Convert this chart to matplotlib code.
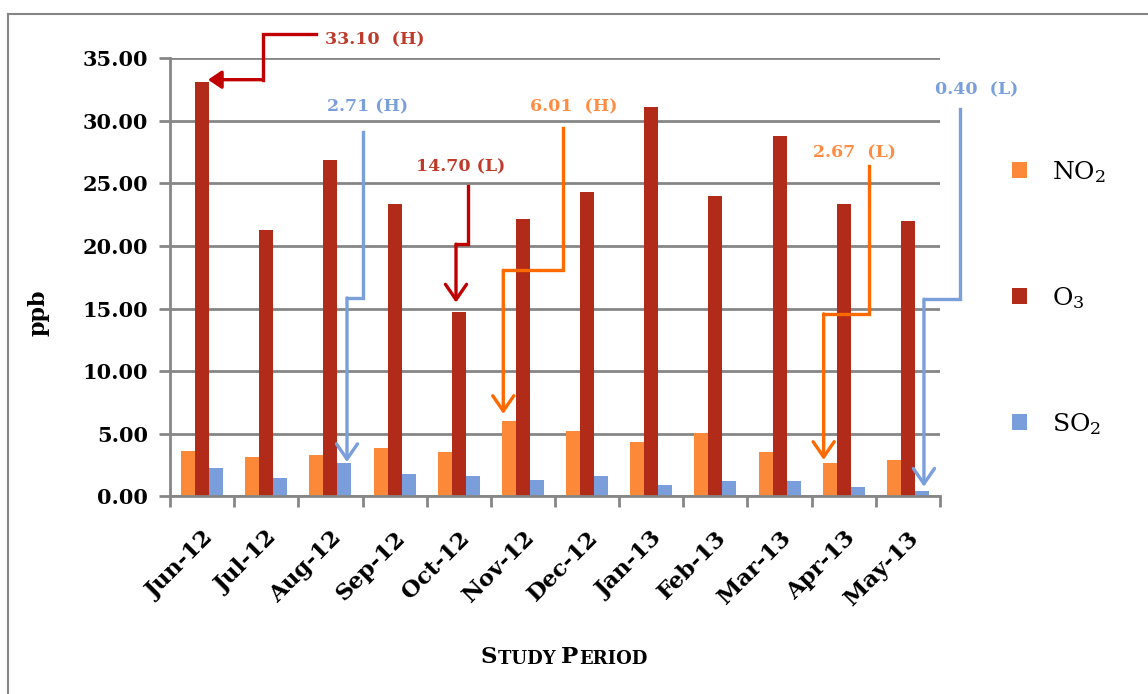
import matplotlib
matplotlib.use('Agg')
import matplotlib.pyplot as plt
import numpy as np
from matplotlib.lines import Line2D

plt.rcParams['font.family'] = 'DejaVu Serif'
plt.rcParams['mathtext.fontset'] = 'dejavuserif'

# monthly means (ppb)
months = ['Jun-12', 'Jul-12', 'Aug-12', 'Sep-12', 'Oct-12', 'Nov-12',
          'Dec-12', 'Jan-13', 'Feb-13', 'Mar-13', 'Apr-13', 'May-13']
no2 = [3.67, 3.13, 3.32, 3.85, 3.56, 6.01, 5.26, 4.33, 5.10, 3.59, 2.67, 2.93]
o3 = [33.10, 21.29, 26.82, 23.34, 14.70, 22.14, 24.27, 31.10, 24.00, 28.74, 23.36, 22.00]
so2 = [2.29, 1.44, 2.71, 1.78, 1.65, 1.30, 1.62, 0.90, 1.20, 1.25, 0.72, 0.40]
yticks = [0, 5, 10, 15, 20, 25, 30, 35]

c_no2 = '#FC8939'
c_o3 = '#B22B18'
c_so2 = '#7A9DDB'
grey = '#868686'

fig = plt.figure(figsize=(11.48, 6.94), dpi=100)
ax = fig.add_axes([0.1481, 0.2846, 0.6707, 0.6318])

x = np.arange(len(months))
w = 0.218
ax.bar(x - w, no2, w, color=c_no2, label='NO$_2$', zorder=2)
ax.bar(x, o3, w, color=c_o3, label='O$_3$', zorder=2)
ax.bar(x + w, so2, w, color=c_so2, label='SO$_2$', zorder=2)

ax.set_xlim(-0.5, len(months) - 0.5)
ax.set_ylim(0, 35)
ax.set_yticks(yticks)
ax.set_yticklabels(['%.2f' % v for v in yticks], fontsize=15, fontweight='bold')
ax.set_xticks(x)
ax.set_xticklabels(months, rotation=45, ha='right', rotation_mode='anchor',
                   fontsize=16.5, fontweight='bold')
ax.set_xticks(np.arange(-0.5, len(months), 1), minor=True)
ax.tick_params(axis='x', which='major', length=0, pad=22)
ax.tick_params(axis='x', which='minor', length=8, width=2, color=grey, direction='out')
ax.tick_params(axis='y', length=8, width=2, color=grey, direction='out', pad=8)
ax.grid(axis='y', color=grey, lw=2, zorder=0)
ax.set_axisbelow(True)
for s in ['top', 'right']:
    ax.spines[s].set_visible(False)
for s in ['left', 'bottom']:
    ax.spines[s].set_color(grey)
    ax.spines[s].set_linewidth(2)

# highest / lowest callouts: (text, text x, text y, align, line colour, text colour, corners, tip, filled head)
red, orange, blue = '#C00000', '#FF6A00', '#7A9FDB'
callouts = [
    ('33.10  (H)', 1.915, 36.46, 'left', red, '#BE3A2A',
     [(1.775, 36.94), (0.949, 36.94), (0.949, 33.27)], (0.092, 33.27), True),
    ('2.71 (H)', 2.586, 31.11, 'center', blue, blue,
     [(2.508, 29.11), (2.508, 15.85), (2.258, 15.85)], (2.258, 2.75), False),
    ('14.70 (L)', 4.035, 26.32, 'center', red, '#BE3A2A',
     [(4.144, 24.80), (4.144, 20.14), (3.957, 20.14)], (3.957, 15.48), False),
    ('6.01  (H)', 5.796, 31.11, 'center', orange, '#FF8C42',
     [(5.629, 29.41), (5.629, 18.04), (4.694, 18.04)], (4.694, 6.59), False),
    ('2.67  (L)', 10.159, 27.44, 'center', orange, '#FF8C42',
     [(10.398, 26.40), (10.398, 14.58), (9.687, 14.58)], (9.687, 2.92), False),
    ('0.40  (L)', 12.076, 32.47, 'center', blue, blue,
     [(11.811, 30.93), (11.811, 15.75), (11.250, 15.75)], (11.250, 0.78), False),
]
for txt, tx, ty, ha, lc, tc, pts, tip, filled in callouts:
    ax.text(tx, ty, txt, ha=ha, va='center', color=tc, fontsize=12.5,
            fontweight='bold', clip_on=False, zorder=5)
    px = [p[0] for p in pts]
    py = [p[1] for p in pts]
    ax.plot(px, py, color=lc, lw=2.4, clip_on=False, zorder=4, solid_joinstyle='miter')
    if filled:
        style = '-|>,head_length=0.4,head_width=0.27'
    else:
        style = '->,head_length=0.55,head_width=0.38'
    ax.annotate('', xy=tip, xytext=pts[-1],
                arrowprops=dict(arrowstyle=style, color=lc, lw=2.4,
                                shrinkA=0, shrinkB=0, mutation_scale=20),
                annotation_clip=False, zorder=4)

leg = ax.legend(loc='center left', bbox_to_anchor=(0.8815, 0.571),
                bbox_transform=fig.transFigure, frameon=False, fontsize=18,
                handlelength=0.6, handleheight=0.6, handletextpad=1.0,
                labelspacing=4.0, borderpad=0, borderaxespad=0)

fig.text(39 / 1148, 1 - 313 / 694, 'ppb', rotation=90, ha='center', va='center',
         fontsize=16, fontweight='bold')

# small-caps axis title
parts = [('S', 16.5), ('TUDY ', 13), ('P', 16.5), ('ERIOD', 13)]
prev = fig.text(481 / 1148, 1 - 663 / 694, parts[0][0], fontsize=parts[0][1],
                fontweight='bold', va='baseline')
for s, fs in parts[1:]:
    prev = ax.annotate(s, xy=(1, 0), xycoords=prev, va='bottom', ha='left',
                       fontsize=fs, fontweight='bold', annotation_clip=False)

# outer frame: only left and top edges fall inside the picture
fig.add_artist(Line2D([8 / 1148, 8 / 1148], [0, 1 - 14 / 694], color=grey, lw=1.5,
                      transform=fig.transFigure))
fig.add_artist(Line2D([8 / 1148, 1], [1 - 14 / 694, 1 - 14 / 694], color=grey, lw=1.5,
                      transform=fig.transFigure))

fig.savefig('out.png', dpi=100)
